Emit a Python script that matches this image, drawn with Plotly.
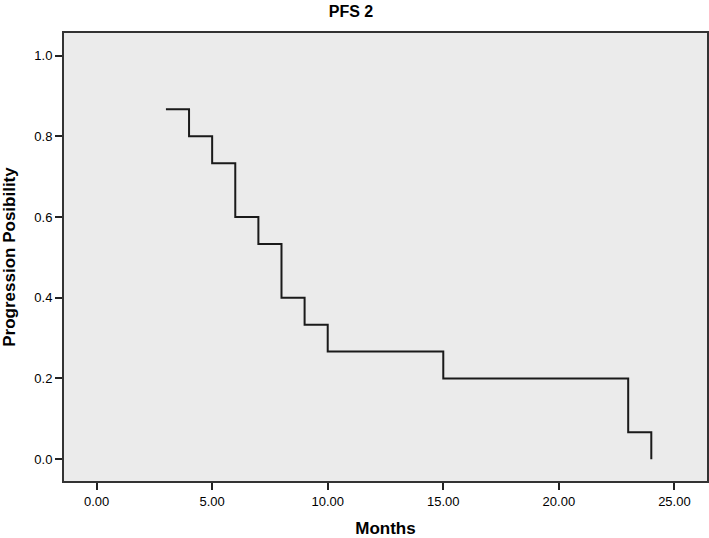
import plotly.graph_objects as go

# PFS 2 step curve (Kaplan-Meier style)
months = [3, 4, 5, 6, 7, 8, 9, 10, 15, 23, 24]
prob = [0.867, 0.800, 0.733, 0.600, 0.533, 0.400, 0.333, 0.267, 0.200, 0.067, 0.0]

x_ticks = [0, 5, 10, 15, 20, 25]
x_labels = ["0.00", "5.00", "10.00", "15.00", "20.00", "25.00"]
y_ticks = [0.0, 0.2, 0.4, 0.6, 0.8, 1.0]
y_labels = ["0.0", "0.2", "0.4", "0.6", "0.8", "1.0"]

fig = go.Figure()
fig.add_trace(go.Scatter(
    x=months, y=prob,
    mode="lines",
    line=dict(shape="hv", color="#1a1a1a", width=2),
    showlegend=False,
))

fig.update_layout(
    width=709, height=538,
    margin=dict(l=64, r=2, t=33, b=57),
    paper_bgcolor="white",
    plot_bgcolor="#ebebeb",
    font=dict(family="Liberation Sans, Arial, sans-serif", color="#000000"),
    title=dict(
        text="<b>PFS 2</b>", x=351 / 709, xanchor="center",
        y=1 - 11 / 538, yanchor="middle",
        font=dict(size=16, color="#000000"),
    ),
)

fig.update_xaxes(
    range=[-1.41, 26.41],
    tickvals=x_ticks, ticktext=x_labels,
    ticks="outside", ticklen=7, tickwidth=2, tickcolor="#222222",
    tickfont=dict(size=13, color="#000000"),
    showline=True, linecolor="#333333", linewidth=2, mirror=True,
    showgrid=False, zeroline=False, automargin=False,
    title=dict(text="<b>Months</b>", font=dict(size=17, color="#000000"), standoff=16),
)
fig.update_yaxes(
    range=[-0.054, 1.056],
    tickvals=y_ticks, ticktext=y_labels,
    ticks="outside", ticklen=7, tickwidth=2, tickcolor="#222222",
    tickfont=dict(size=13, color="#000000"),
    showline=True, linecolor="#333333", linewidth=2, mirror=True,
    showgrid=False, zeroline=False, automargin=False,
    title=dict(text="<b>Progression Posibility</b>", font=dict(size=17, color="#000000"), standoff=16),
)

# page body has an 8px default margin; drop it so the figure sits at 0,0
fig.write_html(
    "out.html",
    config={"displayModeBar": False},
    post_script="document.body.style.margin='0';",
)
